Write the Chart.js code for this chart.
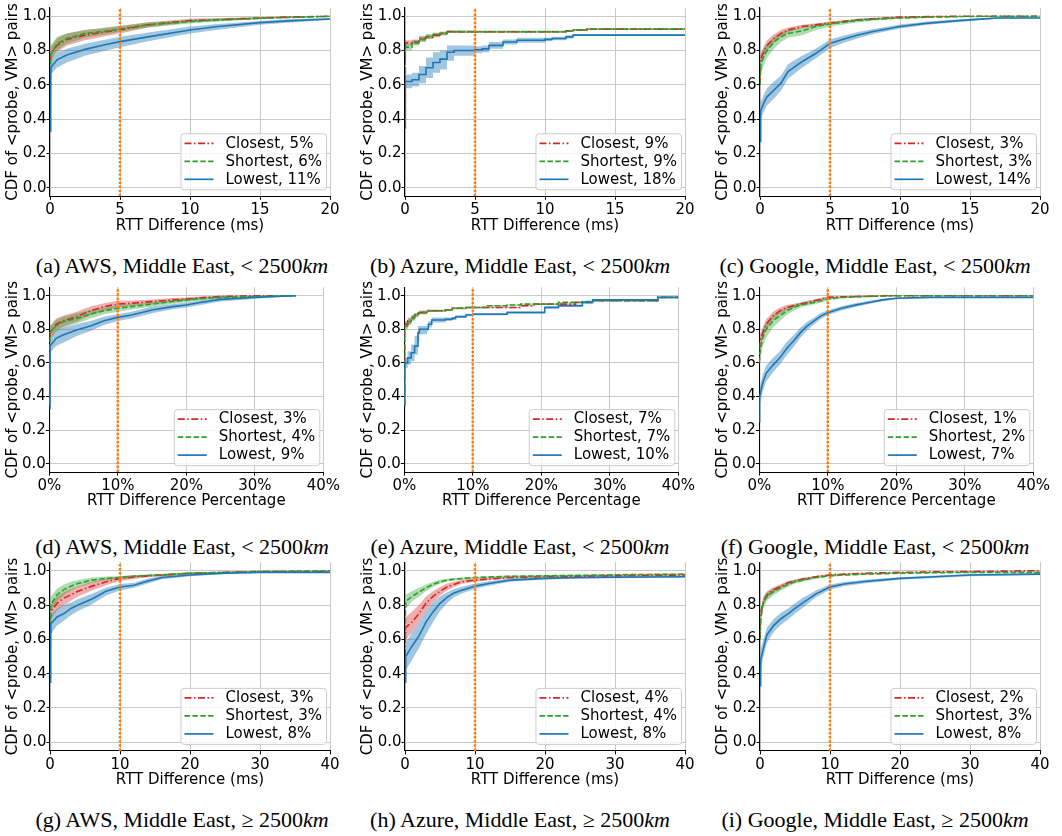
<!DOCTYPE html>
<html><head><meta charset="utf-8">
<script src="https://cdn.jsdelivr.net/npm/chart.js@4.4.1/dist/chart.umd.min.js"></script>
<style>
html,body{margin:0;padding:0;background:#fff;width:1062px;height:836px;overflow:hidden;position:relative}
canvas{position:absolute}
.cap{position:absolute;transform:translate(-50%,-50%);white-space:nowrap;font-family:"Liberation Serif",serif;font-size:22px;color:#000}
</style></head><body>
<script>
// ---------- axis ticks ----------
const yTicks = [0, 0.2, 0.4, 0.6, 0.8, 1.0];
const yTickLabels = ['0.0', '0.2', '0.4', '0.6', '0.8', '1.0'];
const yMin = -0.05, yMax = 1.05;
const xTicksMs20 = [0, 5, 10, 15, 20];
const xTickLabelsMs20 = ['0', '5', '10', '15', '20'];
const xTicksPct = [0, 10, 20, 30, 40];
const xTickLabelsPct = ['0%', '10%', '20%', '30%', '40%'];
const xTicksMs40 = [0, 10, 20, 30, 40];
const xTickLabelsMs40 = ['0', '10', '20', '30', '40'];
const xTitles = ['RTT Difference (ms)', 'RTT Difference Percentage', 'RTT Difference (ms)'];
const yTitle = 'CDF of <probe, VM> pairs';

// ---------- captions / legends ----------
const letters = ['a', 'b', 'c', 'd', 'e', 'f', 'g', 'h', 'i'];
const providers = ['AWS', 'Azure', 'Google'];
const region = 'Middle East';
const distanceOps = ['&lt;', '&lt;', '≥'];
const distanceKm = '2500';
const thresholds = [5, 5, 5, 10, 10, 10, 10, 10, 10];
const closestPct = [5, 9, 3, 3, 7, 1, 3, 4, 2];
const shortestPct = [6, 9, 3, 4, 7, 2, 3, 4, 3];
const lowestPct = [11, 18, 14, 9, 10, 7, 8, 8, 8];

// ---------- (a) AWS ms ----------
const aX = [0, 0.05, 0.5, 1.2, 2.5, 4, 5, 7, 10, 12, 15, 17, 20];
const aClosest   = [0.35, 0.78, 0.83, 0.865, 0.89, 0.91, 0.92, 0.95, 0.975, 0.98, 0.99, 0.995, 1.0];
const aClosestLo = [0.35, 0.74, 0.79, 0.83, 0.86, 0.885, 0.90, 0.935, 0.965, 0.972, 0.985, 0.992, 0.998];
const aClosestHi = [0.35, 0.82, 0.87, 0.90, 0.92, 0.935, 0.945, 0.965, 0.985, 0.988, 0.995, 0.998, 1.0];
const aShortest   = [0.35, 0.78, 0.84, 0.87, 0.90, 0.914, 0.926, 0.95, 0.969, 0.979, 0.988, 0.993, 1.0];
const aShortestLo = [0.35, 0.73, 0.80, 0.84, 0.875, 0.895, 0.91, 0.935, 0.958, 0.97, 0.982, 0.99, 0.998];
const aShortestHi = [0.35, 0.83, 0.88, 0.90, 0.92, 0.932, 0.942, 0.963, 0.98, 0.988, 0.994, 0.997, 1.0];
const aLowest   = [0.33, 0.70, 0.746, 0.774, 0.807, 0.835, 0.852, 0.88, 0.92, 0.94, 0.963, 0.973, 0.984];
const aLowestLo = [0.33, 0.66, 0.70, 0.73, 0.77, 0.80, 0.82, 0.855, 0.90, 0.922, 0.95, 0.962, 0.978];
const aLowestHi = [0.33, 0.74, 0.79, 0.81, 0.84, 0.865, 0.88, 0.905, 0.94, 0.955, 0.973, 0.982, 0.99];

// ---------- (b) Azure ms ----------
const bX = [0, 0.02, 0.5, 1, 1.5, 2, 2.5, 3, 3.5, 5, 5.5, 6, 7, 8, 10, 10.5, 11.5, 12, 13, 20];
const bClosest   = [0.35, 0.845, 0.85, 0.87, 0.88, 0.89, 0.90, 0.91, 0.91, 0.91, 0.91, 0.91, 0.91, 0.91, 0.91, 0.91, 0.915, 0.92, 0.925, 0.93];
const bClosestLo = [0.35, 0.83, 0.835, 0.855, 0.867, 0.878, 0.89, 0.902, 0.903, 0.904, 0.904, 0.904, 0.904, 0.904, 0.904, 0.904, 0.91, 0.915, 0.92, 0.926];
const bClosestHi = [0.35, 0.86, 0.865, 0.885, 0.893, 0.902, 0.91, 0.918, 0.917, 0.916, 0.916, 0.916, 0.916, 0.916, 0.916, 0.916, 0.92, 0.925, 0.93, 0.934];
const bShortest   = [0.35, 0.82, 0.845, 0.865, 0.882, 0.893, 0.90, 0.91, 0.91, 0.91, 0.91, 0.91, 0.91, 0.91, 0.91, 0.91, 0.915, 0.92, 0.925, 0.93];
const bShortestLo = [0.35, 0.80, 0.83, 0.85, 0.87, 0.882, 0.89, 0.902, 0.903, 0.904, 0.904, 0.904, 0.904, 0.904, 0.904, 0.904, 0.91, 0.915, 0.92, 0.926];
const bShortestHi = [0.35, 0.84, 0.86, 0.88, 0.894, 0.904, 0.91, 0.918, 0.917, 0.916, 0.916, 0.916, 0.916, 0.916, 0.916, 0.916, 0.92, 0.925, 0.93, 0.934];
const bLowest   = [0.35, 0.62, 0.63, 0.66, 0.70, 0.73, 0.75, 0.79, 0.80, 0.805, 0.81, 0.83, 0.85, 0.86, 0.865, 0.87, 0.88, 0.89, 0.89, 0.89];
const bLowestLo = [0.35, 0.58, 0.59, 0.61, 0.64, 0.67, 0.69, 0.74, 0.77, 0.785, 0.79, 0.81, 0.835, 0.845, 0.855, 0.86, 0.87, 0.885, 0.885, 0.885];
const bLowestHi = [0.35, 0.66, 0.67, 0.71, 0.76, 0.79, 0.80, 0.83, 0.83, 0.825, 0.83, 0.85, 0.865, 0.875, 0.875, 0.88, 0.89, 0.895, 0.895, 0.895];

// ---------- (c) Google ms ----------
const cX = [0, 0.05, 0.3, 0.5, 1, 1.5, 2, 3, 4, 5, 6, 7, 8, 10, 12, 14, 16, 17, 20];
const cClosest   = [0.6, 0.75, 0.80, 0.83, 0.87, 0.90, 0.92, 0.94, 0.95, 0.96, 0.97, 0.98, 0.985, 0.995, 0.998, 1.0, 1.0, 1.0, 1.0];
const cClosestLo = [0.6, 0.72, 0.77, 0.80, 0.845, 0.88, 0.905, 0.93, 0.94, 0.952, 0.963, 0.974, 0.98, 0.99, 0.995, 0.998, 0.999, 1.0, 1.0];
const cClosestHi = [0.6, 0.78, 0.83, 0.86, 0.895, 0.92, 0.935, 0.95, 0.96, 0.968, 0.977, 0.986, 0.99, 0.998, 1.0, 1.0, 1.0, 1.0, 1.0];
const cShortest   = [0.6, 0.72, 0.77, 0.80, 0.85, 0.88, 0.90, 0.915, 0.94, 0.955, 0.965, 0.975, 0.982, 0.99, 0.995, 0.998, 1.0, 1.0, 1.0];
const cShortestLo = [0.6, 0.66, 0.72, 0.76, 0.81, 0.85, 0.875, 0.89, 0.92, 0.94, 0.952, 0.965, 0.974, 0.985, 0.991, 0.995, 0.998, 0.999, 1.0];
const cShortestHi = [0.6, 0.78, 0.82, 0.84, 0.88, 0.905, 0.92, 0.935, 0.955, 0.968, 0.976, 0.984, 0.99, 0.995, 0.998, 1.0, 1.0, 1.0, 1.0];
const cLowest   = [0.27, 0.45, 0.50, 0.53, 0.57, 0.61, 0.677, 0.735, 0.784, 0.842, 0.867, 0.891, 0.91, 0.94, 0.96, 0.973, 0.985, 0.99, 0.99];
const cLowestLo = [0.27, 0.40, 0.45, 0.48, 0.52, 0.565, 0.635, 0.70, 0.755, 0.815, 0.845, 0.872, 0.895, 0.928, 0.95, 0.965, 0.98, 0.985, 0.987];
const cLowestHi = [0.27, 0.50, 0.55, 0.58, 0.62, 0.655, 0.72, 0.77, 0.812, 0.865, 0.888, 0.908, 0.925, 0.952, 0.97, 0.981, 0.99, 0.994, 0.994];

// ---------- (d) AWS % ----------
const dX = [0, 0.1, 1, 2, 4, 6, 8, 10, 12, 15, 18, 20, 22, 25, 28, 30, 33, 36];
const dClosest   = [0.35, 0.78, 0.83, 0.85, 0.875, 0.91, 0.935, 0.95, 0.955, 0.965, 0.975, 0.98, 0.988, 0.995, 0.998, 1.0, 1.0, 1.0];
const dClosestLo = [0.35, 0.74, 0.79, 0.815, 0.845, 0.885, 0.91, 0.93, 0.94, 0.95, 0.962, 0.968, 0.978, 0.99, 0.995, 0.998, 1.0, 1.0];
const dClosestHi = [0.35, 0.82, 0.865, 0.88, 0.905, 0.935, 0.955, 0.97, 0.972, 0.978, 0.986, 0.99, 0.995, 0.999, 1.0, 1.0, 1.0, 1.0];
const dShortest   = [0.35, 0.78, 0.82, 0.845, 0.865, 0.89, 0.91, 0.925, 0.935, 0.95, 0.965, 0.975, 0.982, 0.99, 0.993, 0.995, 0.998, 1.0];
const dShortestLo = [0.35, 0.74, 0.785, 0.81, 0.835, 0.865, 0.89, 0.905, 0.918, 0.935, 0.952, 0.963, 0.972, 0.983, 0.988, 0.99, 0.995, 0.999];
const dShortestHi = [0.35, 0.82, 0.855, 0.875, 0.895, 0.915, 0.93, 0.942, 0.95, 0.962, 0.976, 0.985, 0.99, 0.995, 0.997, 0.998, 1.0, 1.0];
const dLowest   = [0.33, 0.70, 0.746, 0.766, 0.796, 0.82, 0.851, 0.871, 0.885, 0.915, 0.935, 0.945, 0.96, 0.978, 0.985, 0.99, 0.995, 1.0];
const dLowestLo = [0.33, 0.66, 0.70, 0.72, 0.76, 0.79, 0.825, 0.85, 0.865, 0.895, 0.92, 0.93, 0.945, 0.965, 0.975, 0.982, 0.99, 0.998];
const dLowestHi = [0.33, 0.74, 0.79, 0.81, 0.83, 0.85, 0.875, 0.89, 0.905, 0.935, 0.95, 0.96, 0.972, 0.988, 0.993, 0.996, 0.999, 1.0];

// ---------- (e) Azure % ----------
const eX = [0, 0.05, 0.5, 1, 1.5, 2, 2.2, 3.3, 3.5, 4, 6, 7, 7.5, 9, 10, 12, 15, 17, 19, 20, 20.5, 22.5, 25, 26, 27.5, 36.5, 37, 40];
const eClosest   = [0.35, 0.83, 0.85, 0.87, 0.885, 0.895, 0.90, 0.91, 0.91, 0.91, 0.915, 0.925, 0.925, 0.93, 0.93, 0.93, 0.93, 0.94, 0.95, 0.95, 0.95, 0.95, 0.96, 0.96, 0.97, 0.97, 0.99, 0.99];
const eClosestLo = [0.35, 0.81, 0.83, 0.855, 0.873, 0.885, 0.89, 0.902, 0.903, 0.904, 0.91, 0.92, 0.92, 0.926, 0.926, 0.926, 0.926, 0.936, 0.946, 0.946, 0.946, 0.946, 0.957, 0.957, 0.967, 0.967, 0.988, 0.988];
const eClosestHi = [0.35, 0.85, 0.87, 0.885, 0.897, 0.905, 0.91, 0.918, 0.917, 0.916, 0.92, 0.93, 0.93, 0.934, 0.934, 0.934, 0.934, 0.944, 0.954, 0.954, 0.954, 0.954, 0.963, 0.963, 0.973, 0.973, 0.992, 0.992];
const eShortest   = [0.35, 0.82, 0.845, 0.865, 0.885, 0.895, 0.90, 0.91, 0.91, 0.91, 0.915, 0.925, 0.925, 0.93, 0.93, 0.94, 0.945, 0.95, 0.95, 0.95, 0.95, 0.96, 0.96, 0.965, 0.97, 0.97, 0.99, 0.99];
const eShortestLo = [0.35, 0.80, 0.825, 0.85, 0.872, 0.885, 0.89, 0.902, 0.903, 0.904, 0.91, 0.92, 0.92, 0.926, 0.926, 0.936, 0.941, 0.946, 0.946, 0.946, 0.946, 0.957, 0.957, 0.962, 0.967, 0.967, 0.988, 0.988];
const eShortestHi = [0.35, 0.84, 0.865, 0.88, 0.897, 0.905, 0.91, 0.918, 0.917, 0.916, 0.92, 0.93, 0.93, 0.934, 0.934, 0.944, 0.949, 0.954, 0.954, 0.954, 0.954, 0.963, 0.963, 0.968, 0.973, 0.973, 0.992, 0.992];
const eLowest   = [0.35, 0.60, 0.63, 0.66, 0.70, 0.78, 0.80, 0.80, 0.83, 0.855, 0.86, 0.865, 0.875, 0.885, 0.89, 0.89, 0.90, 0.90, 0.90, 0.90, 0.93, 0.94, 0.94, 0.96, 0.975, 0.975, 0.99, 0.99];
const eLowestLo = [0.35, 0.57, 0.59, 0.61, 0.65, 0.73, 0.77, 0.785, 0.81, 0.84, 0.85, 0.857, 0.867, 0.877, 0.883, 0.883, 0.893, 0.893, 0.893, 0.893, 0.922, 0.933, 0.933, 0.953, 0.97, 0.97, 0.987, 0.987];
const eLowestHi = [0.35, 0.63, 0.67, 0.71, 0.76, 0.82, 0.82, 0.815, 0.85, 0.87, 0.87, 0.873, 0.883, 0.893, 0.897, 0.897, 0.907, 0.907, 0.907, 0.907, 0.938, 0.947, 0.947, 0.967, 0.98, 0.98, 0.993, 0.993];

// ---------- (f) Google % ----------
const fX = [0, 0.05, 0.5, 1, 2, 3, 4, 5, 6, 7, 8, 9, 10, 12, 14, 16, 18, 20, 25, 30, 40];
const fClosest   = [0.6, 0.72, 0.78, 0.83, 0.88, 0.91, 0.93, 0.94, 0.95, 0.96, 0.97, 0.98, 0.99, 0.993, 0.995, 0.997, 0.999, 1.0, 1.0, 1.0, 1.0];
const fClosestLo = [0.6, 0.68, 0.75, 0.80, 0.855, 0.89, 0.915, 0.928, 0.94, 0.95, 0.962, 0.972, 0.984, 0.99, 0.993, 0.995, 0.997, 0.999, 1.0, 1.0, 1.0];
const fClosestHi = [0.6, 0.76, 0.81, 0.86, 0.905, 0.93, 0.945, 0.952, 0.96, 0.97, 0.978, 0.987, 0.995, 0.997, 0.998, 0.999, 1.0, 1.0, 1.0, 1.0, 1.0];
const fShortest   = [0.6, 0.65, 0.75, 0.80, 0.85, 0.88, 0.91, 0.93, 0.945, 0.952, 0.96, 0.97, 0.98, 0.99, 0.993, 0.996, 0.998, 1.0, 1.0, 1.0, 1.0];
const fShortestLo = [0.6, 0.60, 0.70, 0.75, 0.81, 0.85, 0.885, 0.91, 0.93, 0.94, 0.948, 0.96, 0.972, 0.984, 0.989, 0.993, 0.996, 0.998, 1.0, 1.0, 1.0];
const fShortestHi = [0.6, 0.70, 0.80, 0.84, 0.885, 0.91, 0.93, 0.948, 0.96, 0.965, 0.972, 0.98, 0.988, 0.995, 0.997, 0.998, 1.0, 1.0, 1.0, 1.0, 1.0];
const fLowest   = [0.25, 0.40, 0.48, 0.538, 0.587, 0.63, 0.686, 0.73, 0.78, 0.82, 0.85, 0.88, 0.899, 0.925, 0.944, 0.96, 0.975, 0.985, 0.99, 0.99, 0.99];
const fLowestLo = [0.25, 0.35, 0.43, 0.49, 0.545, 0.59, 0.645, 0.695, 0.75, 0.795, 0.83, 0.862, 0.885, 0.912, 0.933, 0.95, 0.967, 0.979, 0.986, 0.987, 0.987];
const fLowestHi = [0.25, 0.45, 0.53, 0.585, 0.63, 0.67, 0.725, 0.765, 0.81, 0.845, 0.87, 0.897, 0.913, 0.937, 0.955, 0.97, 0.982, 0.99, 0.993, 0.993, 0.993];

// ---------- (g) AWS ms, >= 2500 ----------
const gX = [0, 0.1, 1, 2, 3, 4, 6, 8, 10, 12, 14, 16, 20, 25, 30, 40];
const gClosest   = [0.4, 0.76, 0.81, 0.84, 0.86, 0.88, 0.91, 0.935, 0.955, 0.963, 0.97, 0.975, 0.985, 0.99, 0.995, 0.995];
const gClosestLo = [0.4, 0.72, 0.77, 0.80, 0.825, 0.85, 0.885, 0.915, 0.94, 0.952, 0.962, 0.968, 0.98, 0.986, 0.992, 0.993];
const gClosestHi = [0.4, 0.80, 0.85, 0.875, 0.895, 0.91, 0.935, 0.955, 0.968, 0.973, 0.977, 0.981, 0.99, 0.994, 0.998, 0.998];
const gShortest   = [0.4, 0.80, 0.86, 0.89, 0.91, 0.925, 0.945, 0.955, 0.96, 0.968, 0.972, 0.975, 0.985, 0.99, 0.995, 1.0];
const gShortestLo = [0.4, 0.76, 0.82, 0.86, 0.885, 0.905, 0.93, 0.945, 0.952, 0.96, 0.966, 0.97, 0.98, 0.987, 0.993, 0.998];
const gShortestHi = [0.4, 0.85, 0.895, 0.92, 0.935, 0.945, 0.96, 0.966, 0.968, 0.975, 0.978, 0.981, 0.99, 0.994, 0.997, 1.0];
const gLowest   = [0.35, 0.69, 0.73, 0.75, 0.78, 0.80, 0.835, 0.88, 0.905, 0.915, 0.94, 0.96, 0.975, 0.985, 0.99, 0.99];
const gLowestLo = [0.35, 0.63, 0.68, 0.71, 0.74, 0.765, 0.805, 0.855, 0.885, 0.90, 0.925, 0.95, 0.968, 0.98, 0.986, 0.987];
const gLowestHi = [0.35, 0.74, 0.78, 0.80, 0.815, 0.835, 0.865, 0.90, 0.922, 0.93, 0.955, 0.97, 0.982, 0.99, 0.993, 0.993];

// ---------- (h) Azure ms, >= 2500 ----------
const hX = [0, 0.1, 1, 2, 3, 4, 5, 6, 7, 8, 10, 12, 15, 20, 25, 30, 40];
const hClosest   = [0.5, 0.67, 0.70, 0.75, 0.81, 0.85, 0.88, 0.905, 0.92, 0.935, 0.945, 0.952, 0.96, 0.965, 0.968, 0.97, 0.975];
const hClosestLo = [0.5, 0.60, 0.64, 0.70, 0.765, 0.815, 0.855, 0.885, 0.905, 0.922, 0.936, 0.944, 0.953, 0.959, 0.962, 0.965, 0.97];
const hClosestHi = [0.5, 0.73, 0.76, 0.80, 0.85, 0.88, 0.905, 0.925, 0.935, 0.945, 0.954, 0.96, 0.966, 0.97, 0.973, 0.975, 0.98];
const hShortest   = [0.6, 0.82, 0.85, 0.875, 0.90, 0.92, 0.935, 0.945, 0.95, 0.953, 0.96, 0.963, 0.967, 0.97, 0.973, 0.976, 0.98];
const hShortestLo = [0.6, 0.78, 0.82, 0.85, 0.88, 0.905, 0.925, 0.937, 0.943, 0.947, 0.955, 0.958, 0.962, 0.966, 0.969, 0.972, 0.977];
const hShortestHi = [0.6, 0.86, 0.88, 0.90, 0.92, 0.935, 0.947, 0.953, 0.957, 0.96, 0.965, 0.968, 0.972, 0.975, 0.977, 0.98, 0.984];
const hLowest   = [0.35, 0.50, 0.56, 0.62, 0.70, 0.76, 0.81, 0.845, 0.87, 0.885, 0.91, 0.925, 0.945, 0.955, 0.96, 0.962, 0.965];
const hLowestLo = [0.35, 0.42, 0.48, 0.55, 0.63, 0.70, 0.765, 0.81, 0.845, 0.865, 0.895, 0.912, 0.935, 0.948, 0.953, 0.956, 0.96];
const hLowestHi = [0.35, 0.58, 0.64, 0.70, 0.765, 0.815, 0.85, 0.875, 0.893, 0.905, 0.925, 0.938, 0.955, 0.962, 0.966, 0.968, 0.97];

// ---------- (i) Google ms, >= 2500 ----------
const iX = [0, 0.1, 0.5, 1, 2, 3, 4, 5, 6, 8, 10, 12, 15, 20, 25, 30, 40];
const iClosest   = [0.6, 0.75, 0.82, 0.86, 0.89, 0.91, 0.93, 0.94, 0.95, 0.965, 0.975, 0.98, 0.985, 0.99, 0.993, 0.995, 1.0];
const iClosestLo = [0.6, 0.72, 0.795, 0.84, 0.875, 0.898, 0.92, 0.932, 0.943, 0.96, 0.97, 0.976, 0.982, 0.988, 0.991, 0.993, 0.998];
const iClosestHi = [0.6, 0.78, 0.845, 0.88, 0.905, 0.922, 0.94, 0.948, 0.957, 0.97, 0.98, 0.984, 0.988, 0.992, 0.995, 0.997, 1.0];
const iShortest   = [0.6, 0.72, 0.82, 0.85, 0.88, 0.90, 0.92, 0.935, 0.945, 0.96, 0.97, 0.975, 0.98, 0.985, 0.988, 0.99, 0.99];
const iShortestLo = [0.6, 0.68, 0.79, 0.825, 0.86, 0.885, 0.907, 0.925, 0.936, 0.953, 0.965, 0.97, 0.976, 0.982, 0.985, 0.987, 0.988];
const iShortestHi = [0.6, 0.77, 0.85, 0.875, 0.90, 0.915, 0.933, 0.945, 0.954, 0.967, 0.975, 0.98, 0.984, 0.988, 0.991, 0.993, 0.993];
const iLowest   = [0.33, 0.48, 0.55, 0.627, 0.683, 0.72, 0.748, 0.78, 0.81, 0.865, 0.905, 0.922, 0.937, 0.955, 0.965, 0.975, 0.98];
const iLowestLo = [0.33, 0.42, 0.50, 0.58, 0.645, 0.685, 0.715, 0.75, 0.78, 0.845, 0.89, 0.91, 0.927, 0.947, 0.958, 0.968, 0.975];
const iLowestHi = [0.33, 0.54, 0.60, 0.67, 0.72, 0.755, 0.78, 0.81, 0.84, 0.885, 0.92, 0.934, 0.947, 0.962, 0.972, 0.98, 0.985];

// ---------- assemble ----------
const panelSeries = [
  {x: aX, c: [aClosest, aClosestLo, aClosestHi], s: [aShortest, aShortestLo, aShortestHi], l: [aLowest, aLowestLo, aLowestHi], stepped: false},
  {x: bX, c: [bClosest, bClosestLo, bClosestHi], s: [bShortest, bShortestLo, bShortestHi], l: [bLowest, bLowestLo, bLowestHi], stepped: 'before'},
  {x: cX, c: [cClosest, cClosestLo, cClosestHi], s: [cShortest, cShortestLo, cShortestHi], l: [cLowest, cLowestLo, cLowestHi], stepped: false},
  {x: dX, c: [dClosest, dClosestLo, dClosestHi], s: [dShortest, dShortestLo, dShortestHi], l: [dLowest, dLowestLo, dLowestHi], stepped: false},
  {x: eX, c: [eClosest, eClosestLo, eClosestHi], s: [eShortest, eShortestLo, eShortestHi], l: [eLowest, eLowestLo, eLowestHi], stepped: 'before'},
  {x: fX, c: [fClosest, fClosestLo, fClosestHi], s: [fShortest, fShortestLo, fShortestHi], l: [fLowest, fLowestLo, fLowestHi], stepped: false},
  {x: gX, c: [gClosest, gClosestLo, gClosestHi], s: [gShortest, gShortestLo, gShortestHi], l: [gLowest, gLowestLo, gLowestHi], stepped: false},
  {x: hX, c: [hClosest, hClosestLo, hClosestHi], s: [hShortest, hShortestLo, hShortestHi], l: [hLowest, hLowestLo, hLowestHi], stepped: false},
  {x: iX, c: [iClosest, iClosestLo, iClosestHi], s: [iShortest, iShortestLo, iShortestHi], l: [iLowest, iLowestLo, iLowestHi], stepped: false}
];
const rowXTicks = [xTicksMs20, xTicksPct, xTicksMs40];
const rowXTickLabels = [xTickLabelsMs20, xTickLabelsPct, xTickLabelsMs40];

// ---------- styling / layout ----------
const FONT = {family: '"DejaVu Sans", sans-serif', size: 15, lineHeight: 1.2};
const RED = '#d62728', GREEN = '#2ca02c', BLUE = '#1f77b4', ORANGE = '#ff7f0e';
const RED_BAND = 'rgba(214,39,40,0.38)', GREEN_BAND = 'rgba(44,160,44,0.38)', BLUE_BAND = 'rgba(31,119,180,0.42)';
const DASH_DOT = [7, 2.5, 1.5, 2.5], DASHED = [5.5, 2.4], SOLID = [];
const canvasLeft = [0, 355, 710];
const canvasTop = [0, 280, 555];
const canvasW = 350, canvasH = 240;
const plotLeftRow = [[50, 405, 760], [49.3, 404.3, 759.3], [50, 405, 760]];
const plotRightRow = [[330, 685, 1040], [323.3, 678.3, 1033.3], [330, 685, 1040]];
const plotTopRow = [7.7, 287.3, 562.1];
const plotBottomRow = [196.3, 472.1, 750.9];
const xAxisH = 38.5;
const captionX = [182, 520, 875];
const captionY = [266, 547, 820];

const boxLegend = {
  id: 'boxLegend',
  afterDatasetsDraw(chart, args, opts) {
    const {ctx, chartArea} = chart;
    const items = opts.items;
    ctx.save();
    ctx.font = FONT.size + 'px ' + FONT.family;
    const textW = Math.max(...items.map(it => ctx.measureText(it.label).width));
    const rowH = 18, padT = 1, lineLen = 29, gap = 12, padL = 4, padR = 4;
    const w = padL + lineLen + gap + textW + padR;
    const h = padT * 2 + rowH * items.length;
    const x0 = chartArea.right - 4 - w;
    const y0 = chartArea.bottom - 7 - h;
    ctx.beginPath();
    ctx.roundRect(x0 + 0.5, y0 + 0.5, w, h, 3);
    ctx.fillStyle = 'rgba(255,255,255,0.8)';
    ctx.fill();
    ctx.strokeStyle = '#cccccc';
    ctx.lineWidth = 1;
    ctx.stroke();
    items.forEach((it, k) => {
      const cy = y0 + padT + rowH * (k + 0.5);
      ctx.beginPath();
      ctx.setLineDash(it.dash);
      ctx.strokeStyle = it.color;
      ctx.lineWidth = 1.7;
      ctx.moveTo(x0 + padL, cy);
      ctx.lineTo(x0 + padL + lineLen, cy);
      ctx.stroke();
      ctx.setLineDash([]);
      ctx.fillStyle = '#000';
      ctx.textBaseline = 'middle';
      ctx.textAlign = 'left';
      ctx.fillText(it.label, x0 + padL + lineLen + gap, cy + 0.5);
    });
    ctx.restore();
  }
};

function pts(xs, ys) { return xs.map((v, k) => ({x: v, y: ys[k]})); }

function seriesDatasets(base, xs, arr, color, band, dash, stepped, lineOrder, bandOrder) {
  const [mid, lo, hi] = arr;
  return [
    {data: pts(xs, lo), borderWidth: 0, borderColor: 'rgba(0,0,0,0)', pointRadius: 0, fill: false, stepped, order: bandOrder},
    {data: pts(xs, hi), borderWidth: 0, borderColor: 'rgba(0,0,0,0)', pointRadius: 0, fill: base, backgroundColor: band, stepped, order: bandOrder},
    {data: pts(xs, mid), borderWidth: 1.6, borderColor: color, borderDash: dash, pointRadius: 0, fill: false, stepped, order: lineOrder}
  ];
}

for (let p = 0; p < 9; p++) {
  const row = Math.floor(p / 3), col = p % 3;
  const ps = panelSeries[p];
  const cL = canvasLeft[col], cT = canvasTop[row];
  const plotL = plotLeftRow[row][col], plotR = plotRightRow[row][col];
  const plotT = plotTopRow[row], plotB = plotBottomRow[row];
  const cv = document.createElement('canvas');
  cv.width = canvasW; cv.height = canvasH;
  cv.style.left = cL + 'px'; cv.style.top = cT + 'px';
  cv.style.width = canvasW + 'px'; cv.style.height = canvasH + 'px';
  document.body.appendChild(cv);

  const ds = [];
  ds.push(...seriesDatasets(0, ps.x, ps.c, RED, RED_BAND, DASH_DOT, ps.stepped, 3, 13));
  ds.push(...seriesDatasets(3, ps.x, ps.s, GREEN, GREEN_BAND, DASHED, ps.stepped, 2, 12));
  ds.push(...seriesDatasets(6, ps.x, ps.l, BLUE, BLUE_BAND, SOLID, ps.stepped, 1, 11));
  ds.push({data: [{x: thresholds[p], y: yMin}, {x: thresholds[p], y: yMax}], borderWidth: 2.5, borderColor: ORANGE,
           borderDash: [2.5, 1.6], pointRadius: 0, fill: false, order: 0});

  const xt = rowXTicks[row], xl = rowXTickLabels[row];
  new Chart(cv, {
    type: 'line',
    data: {datasets: ds},
    plugins: [boxLegend],
    options: {
      responsive: false, animation: false, devicePixelRatio: 1,
      events: [],
      layout: {padding: {left: 0, top: plotT - cT, right: cL + canvasW - plotR, bottom: canvasH - (plotB - cT) - xAxisH}},
      plugins: {
        legend: {display: false}, tooltip: {enabled: false},
        boxLegend: {items: [
          {label: 'Closest, ' + closestPct[p] + '%', color: RED, dash: DASH_DOT},
          {label: 'Shortest, ' + shortestPct[p] + '%', color: GREEN, dash: DASHED},
          {label: 'Lowest, ' + lowestPct[p] + '%', color: BLUE, dash: SOLID}
        ]}
      },
      scales: {
        x: {
          type: 'linear', min: xt[0], max: xt[xt.length - 1],
          afterBuildTicks: s => { s.ticks = xt.map(v => ({value: v})); },
          afterFit: s => { s.height = xAxisH; s.paddingLeft = 0; s.paddingRight = 0; },
          grid: {color: '#c9c9c9', lineWidth: 1, tickLength: 3.5, tickColor: '#000', drawTicks: true},
          border: {color: '#000', width: 1.1},
          ticks: {font: FONT, color: '#000', padding: 1.5, maxRotation: 0, autoSkip: false, callback: (v, k) => xl[k]},
          title: {display: true, text: xTitles[row], font: FONT, color: '#000', padding: {top: 0, bottom: 0}}
        },
        y: {
          type: 'linear', min: yMin, max: yMax,
          afterBuildTicks: s => { s.ticks = yTicks.map(v => ({value: v})); },
          afterFit: s => { s.width = plotL - cL; s.paddingTop = 0; s.paddingBottom = 0; },
          grid: {color: '#c9c9c9', lineWidth: 1, tickLength: 3.5, tickColor: '#000', drawTicks: true},
          border: {color: '#000', width: 1.1},
          ticks: {font: FONT, color: '#000', padding: 0, autoSkip: false, callback: (v, k) => yTickLabels[k]},
          title: {display: true, text: yTitle, font: FONT, color: '#000', padding: {top: 4, bottom: 0}}
        }
      }
    }
  });

  const cap = document.createElement('div');
  cap.className = 'cap';
  cap.style.left = captionX[col] + 'px';
  cap.style.top = captionY[row] + 'px';
  cap.innerHTML = '(' + letters[p] + ') ' + providers[col] + ', ' + region + ', ' + distanceOps[row] + ' ' + distanceKm + '<i>km</i>';
  document.body.appendChild(cap);
}
</script>
</body></html>
